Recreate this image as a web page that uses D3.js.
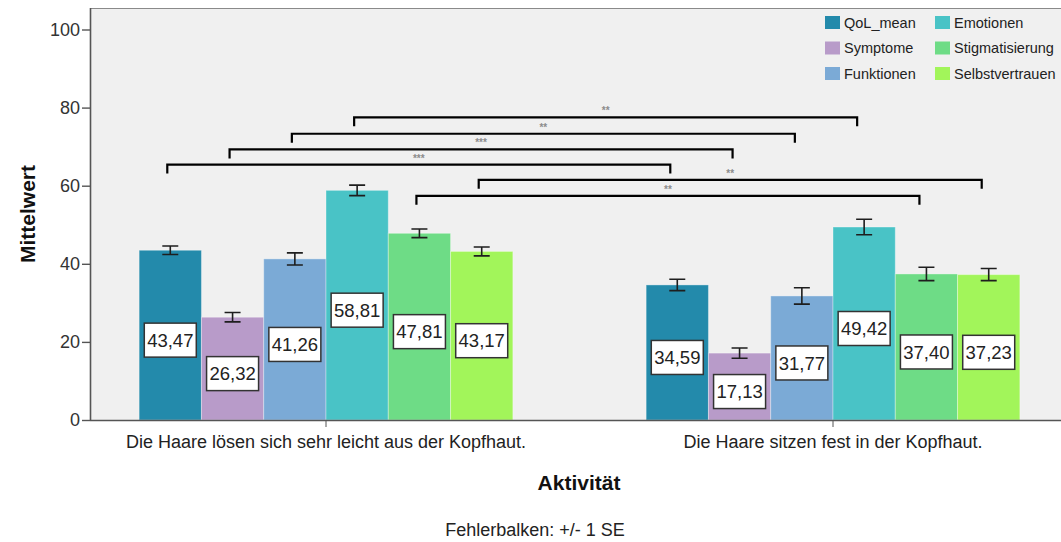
<!DOCTYPE html>
<html>
<head>
<meta charset="utf-8">
<script src="https://cdn.jsdelivr.net/npm/d3@7"></script>
<style>
  html, body { margin: 0; padding: 0; background: #fff; }
  svg { display: block; font-family: "Liberation Sans", Arial, sans-serif; }
</style>
</head>
<body>
<svg id="chart" width="1061" height="542"></svg>
<script>
// Kategorien der x-Achse
const groups = [
  "Die Haare lösen sich sehr leicht aus der Kopfhaut.",
  "Die Haare sitzen fest in der Kopfhaut."
];
// Skalen (Reihen)
const series = ["QoL_mean", "Symptome", "Funktionen", "Emotionen", "Stigmatisierung", "Selbstvertrauen"];
const seriesColors = ["#238aab", "#b89bc9", "#7baad6", "#49c3c6", "#6edc86", "#a2f55a"];
// Mittelwerte je Kategorie
const meansLoose = [43.47, 26.32, 41.26, 58.81, 47.81, 43.17];
const meansFirm  = [34.59, 17.13, 31.77, 49.42, 37.40, 37.23];
// Standardfehler je Kategorie
const seLoose = [1.1, 1.2, 1.55, 1.35, 1.1, 1.15];
const seFirm  = [1.45, 1.3, 2.1, 2.0, 1.7, 1.55];
// y-Achse
const yTicks = [0, 20, 40, 60, 80, 100];
// Signifikanzklammern: verglichene Skala, Höhe (Wertebereich), Beschriftung
const bracketSeries = ["Emotionen", "Funktionen", "Symptome", "QoL_mean", "Selbstvertrauen", "Stigmatisierung"];
const bracketLevels = [77.5, 73.3, 69.3, 65.4, 61.5, 57.4];
const bracketLabels = ["**", "**", "***", "***", "**", "**"];

const means = [meansLoose, meansFirm];
const ses = [seLoose, seFirm];
const rows = [];
groups.forEach((g, gi) => series.forEach((s, si) => rows.push({
  group: g, series: s, value: means[gi][si], se: ses[gi][si]
})));

const svg = d3.select("#chart");
const plot = { left: 90, right: 1061, top: 8, bottom: 420 };

const x0 = d3.scaleBand().domain(groups).range([72.5, 1086.5]).paddingInner(0).paddingOuter(0);
const x1 = d3.scaleBand().domain(series).range([0, x0.bandwidth()]).paddingOuter(1.07).paddingInner(0);
const y = d3.scaleLinear().domain([0, 100]).range([420, 29.5]);
const color = d3.scaleOrdinal().domain(series).range(seriesColors);

// Plotfläche
svg.append("rect")
  .attr("x", plot.left).attr("y", plot.top)
  .attr("width", plot.right - plot.left).attr("height", plot.bottom - plot.top)
  .attr("fill", "#f0f0f0");
svg.append("line")
  .attr("x1", plot.left).attr("x2", plot.right)
  .attr("y1", plot.top + 0.5).attr("y2", plot.top + 0.5)
  .attr("stroke", "#8a8a8a").attr("stroke-width", 1);

// Balken
const bars = svg.append("g");
bars.selectAll("rect").data(rows).join("rect")
  .attr("x", d => x0(d.group) + x1(d.series))
  .attr("y", d => y(d.value))
  .attr("width", x1.bandwidth())
  .attr("height", d => y(0) - y(d.value))
  .attr("fill", d => color(d.series))
  .attr("stroke", "rgba(255,255,255,0.35)")
  .attr("stroke-width", 1);

// Fehlerbalken (+/- 1 SE)
const cx = d => x0(d.group) + x1(d.series) + x1.bandwidth() / 2;
const err = svg.append("g").attr("stroke", "#1e1e1e").attr("stroke-width", 1.6).attr("fill", "none");
err.selectAll("path").data(rows).join("path")
  .attr("d", d => {
    const c = cx(d), t = y(d.value + d.se), b = y(d.value - d.se), w = 8;
    return `M${c - w},${t}H${c + w}M${c},${t}V${b}M${c - w},${b}H${c + w}`;
  });

// Wertebeschriftungen
const labels = svg.append("g");
const lab = labels.selectAll("g").data(rows).join("g")
  .attr("transform", d => `translate(${cx(d)},${y(d.value / 2) + 5})`);
lab.append("rect")
  .attr("x", -26).attr("y", -17).attr("width", 52).attr("height", 34)
  .attr("fill", "#fff").attr("stroke", "#333").attr("stroke-width", 1.5);
lab.append("text")
  .attr("text-anchor", "middle").attr("dy", "0.36em")
  .attr("font-size", 18.5).attr("fill", "#222")
  .text(d => d3.format(".2f")(d.value).replace(".", ","));

// Signifikanzklammern
const brackets = bracketSeries.map((s, i) => ({ series: s, level: bracketLevels[i], label: bracketLabels[i] }));
const bx = (g, s) => x0(g) + x1(s) + x1.bandwidth() / 2;
const br = svg.append("g");
br.selectAll("path").data(brackets).join("path")
  .attr("fill", "none").attr("stroke", "#000").attr("stroke-width", 2.2)
  .attr("d", d => {
    const a = bx(groups[0], d.series) - 3, b = bx(groups[1], d.series) - 7, h = y(d.level);
    return `M${a},${h + 9}V${h}H${b}V${h + 9}`;
  });
br.selectAll("text").data(brackets).join("text")
  .attr("x", d => (bx(groups[0], d.series) - 3 + bx(groups[1], d.series) - 7) / 2)
  .attr("y", d => y(d.level) - 3)
  .attr("text-anchor", "middle")
  .attr("font-size", 10).attr("font-weight", "bold").attr("fill", "#8c8c8c")
  .text(d => d.label);

// Achsen
const yAxis = svg.append("g").attr("transform", `translate(${plot.left},0)`)
  .call(d3.axisLeft(y).tickValues(yTicks).tickSize(8).tickPadding(2).tickFormat(d3.format("d")));
yAxis.select(".domain").attr("d", `M0.5,${plot.top}V${plot.bottom}`).attr("stroke", "#555").attr("stroke-width", 1.6);
yAxis.selectAll(".tick line").attr("stroke", "#555").attr("stroke-width", 1.4);
yAxis.selectAll(".tick text").attr("font-size", 18).attr("fill", "#333").attr("font-family", null);

const xAxis = svg.append("g").attr("transform", `translate(0,${plot.bottom})`)
  .call(d3.axisBottom(x0).tickSize(7).tickPadding(8));
xAxis.select(".domain").attr("d", `M${plot.left},0.5H${plot.right}`).attr("stroke", "#555").attr("stroke-width", 1.6);
xAxis.selectAll(".tick line").attr("stroke", "#555");
xAxis.selectAll(".tick text").attr("font-size", 18).attr("fill", "#222").attr("font-family", null);

// Achsentitel
svg.append("text")
  .attr("transform", "translate(35,214) rotate(-90)")
  .attr("text-anchor", "middle").attr("font-size", 21).attr("font-weight", "bold").attr("fill", "#111")
  .text("Mittelwert");
svg.append("text")
  .attr("x", 579).attr("y", 490)
  .attr("text-anchor", "middle").attr("font-size", 21).attr("font-weight", "bold").attr("fill", "#111")
  .text("Aktivität");
svg.append("text")
  .attr("x", 535).attr("y", 536)
  .attr("text-anchor", "middle").attr("font-size", 18).attr("fill", "#222")
  .text("Fehlerbalken: +/- 1 SE");

// Legende
const legend = svg.append("g");
const li = legend.selectAll("g").data(series).join("g")
  .attr("transform", (d, i) => `translate(${825 + Math.floor(i / 3) * 110},${16 + (i % 3) * 25.5})`);
li.append("rect").attr("width", 15).attr("height", 13).attr("fill", d => color(d));
li.append("text").attr("x", 19).attr("y", 6.5).attr("dy", "0.36em")
  .attr("font-size", 14.5).attr("fill", "#222").text(d => d);
</script>
</body>
</html>
